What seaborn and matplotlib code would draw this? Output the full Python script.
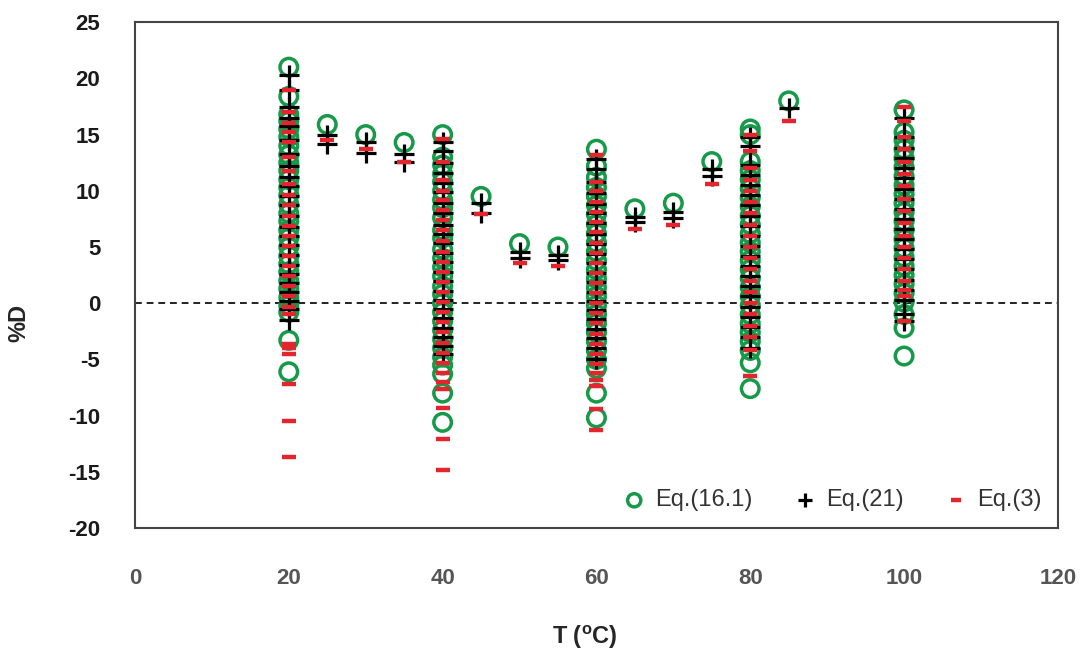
import numpy as np
import pandas as pd
import matplotlib
matplotlib.use("Agg")
import matplotlib.pyplot as plt
import seaborn as sns

# ---------------- data ----------------
eq161 = {
    20: [21.0, 18.4, 16.8, 16.2, 15.5, 14.8, 14.0, 13.2, 12.5, 11.8, 11.0, 10.3, 9.6, 8.8, 8.0, 7.3,
         6.5, 5.8, 5.0, 4.2, 3.5, 2.8, 2.0, 1.3, 0.5, -0.2, -0.8, -3.3, -6.1],
    25: [15.9], 30: [15.0], 35: [14.3],
    40: [15.0, 13.0, 12.3, 11.5, 10.8, 10.0, 9.2, 8.5, 7.6, 6.5, 5.8, 4.8, 4.0, 3.2, 2.4, 1.5, 0.8,
         0.0, -0.8, -1.6, -2.4, -3.2, -4.0, -4.8, -5.5, -6.3, -8.0, -10.6],
    45: [9.5], 50: [5.3], 55: [5.0],
    60: [13.7, 12.2, 11.2, 10.3, 9.5, 8.7, 7.9, 7.0, 6.2, 5.4, 4.6, 3.8, 3.0, 2.2, 1.4, 0.6, -0.2,
         -1.0, -1.8, -2.6, -3.4, -4.2, -5.0, -5.8, -8.0, -10.2],
    65: [8.4], 70: [8.9], 75: [12.6],
    80: [15.5, 15.0, 12.6, 11.8, 11.0, 10.2, 9.4, 8.6, 7.8, 7.0, 6.2, 5.4, 4.6, 3.8, 3.0, 2.2, 1.4,
         0.6, -0.2, -1.0, -1.8, -2.6, -3.4, -4.2, -5.3, -7.6],
    85: [18.0],
    100: [17.2, 15.2, 14.5, 13.7, 12.9, 12.1, 11.3, 10.5, 9.7, 8.9, 8.1, 7.3, 6.5, 5.7, 4.9, 4.1,
          3.3, 2.5, 1.7, 0.9, 0.1, -1.0, -2.2, -4.7],
}
eq21 = {
    20: [20.3, 19.0, 17.5, 16.5, 15.8, 14.5, 13.3, 12.2, 11.2, 10.4, 9.5, 8.7, 7.8, 6.8, 6.0, 5.2,
         4.3, 3.4, 2.6, 1.8, 1.0, 0.2, -0.5, -1.5],
    25: [15.0, 14.2], 30: [14.3, 13.4], 35: [13.3, 12.6],
    40: [14.3, 13.5, 12.5, 11.6, 10.7, 9.9, 8.9, 8.0, 7.0, 6.2, 5.4, 4.5, 3.7, 2.8, 2.0, 1.1, 0.3,
         -0.5, -1.3, -2.2, -3.0, -3.8, -4.5],
    45: [8.9, 8.0], 50: [4.6, 4.0], 55: [4.3, 3.8],
    60: [12.8, 11.9, 10.8, 9.8, 8.8, 8.0, 7.1, 6.2, 5.3, 4.4, 3.6, 2.7, 1.9, 1.0, 0.2, -0.6, -1.4,
         -2.3, -3.1, -4.0, -5.0],
    65: [7.7, 7.2], 70: [8.1, 7.6], 75: [11.9, 11.3],
    80: [14.8, 14.0, 12.3, 11.4, 10.5, 9.6, 8.7, 7.8, 6.9, 6.0, 5.1, 4.2, 3.3, 2.4, 1.5, 0.6, -0.3,
         -1.2, -2.1, -3.0, -4.0],
    85: [17.4],
    100: [16.5, 14.8, 13.8, 12.9, 12.0, 11.1, 10.2, 9.3, 8.4, 7.5, 6.6, 5.7, 4.8, 3.9, 3.0, 2.1,
          1.2, 0.3, -1.0, -1.6],
}
eq3 = {
    20: [19.0, 17.0, 16.0, 15.2, 14.3, 13.0, 11.8, 10.6, 9.6, 8.7, 7.8, 6.9, 6.0, 5.1, 4.2, 3.3,
         2.4, 1.5, 0.6, -0.3, -1.0, -3.6, -4.0, -4.5, -7.2, -10.5, -13.7],
    25: [14.5], 30: [13.7], 35: [12.6],
    40: [14.6, 12.6, 11.0, 10.0, 9.2, 8.3, 7.4, 6.5, 5.5, 4.6, 3.7, 2.8, 1.9, 1.0, 0.1, -0.8, -1.7,
         -2.6, -3.5, -4.4, -5.3, -6.2, -7.0, -7.6, -9.3, -12.1, -14.8],
    45: [7.9], 50: [3.6], 55: [3.3],
    60: [13.2, 10.8, 10.0, 9.0, 8.1, 7.2, 6.3, 5.4, 4.5, 3.6, 2.7, 1.8, 0.9, 0.0, -0.9, -1.8, -2.7,
         -3.6, -4.5, -5.4, -6.2, -6.8, -7.4, -9.4, -11.3],
    65: [6.6], 70: [7.0], 75: [10.6],
    80: [15.0, 13.5, 12.0, 11.0, 10.0, 9.0, 8.0, 7.0, 6.0, 5.0, 4.0, 3.0, 2.0, 1.0, 0.0, -1.0,
         -2.0, -3.0, -4.2, -6.5],
    85: [16.2],
    100: [17.5, 16.2, 14.8, 13.7, 12.6, 11.5, 10.4, 9.3, 8.2, 7.1, 6.0, 5.0, 4.0, 3.0, 2.0, 1.2,
          0.6, -1.6],
}
series_names = ["Eq.(16.1)", "Eq.(21)", "Eq.(3)"]
x_ticks = [0, 20, 40, 60, 80, 100, 120]
y_ticks = [-20, -15, -10, -5, 0, 5, 10, 15, 20, 25]


def to_df(d, name):
    rows = [(t, v, name) for t, vals in d.items() for v in vals]
    return pd.DataFrame(rows, columns=["T", "D", "series"])


df = pd.concat([to_df(eq161, series_names[0]), to_df(eq21, series_names[1]),
                to_df(eq3, series_names[2])], ignore_index=True)

# ---------------- style ----------------
sns.set_theme(style="white")
plt.rcParams['font.family'] = ['Liberation Sans', 'DejaVu Sans']
plt.rcParams['mathtext.fontset'] = 'custom'
plt.rcParams['mathtext.rm'] = 'Liberation Sans'
plt.rcParams['mathtext.bf'] = 'Liberation Sans:bold'

green = "#17994a"
red = "#e3262d"

fig = plt.figure(figsize=(10.85, 6.53), dpi=100)
ax = fig.add_axes([0.1244, 0.1914, 0.8506, 0.7746])

ax.axhline(0, color="#222222", lw=1.4, ls=(0, (3.5, 2.5)), zorder=1)

sns.scatterplot(data=df[df.series == series_names[0]], x="T", y="D", ax=ax,
                marker="o", s=160, facecolors="none", edgecolor=green, linewidth=2.5,
                label=series_names[0], zorder=2)
sns.scatterplot(data=df[df.series == series_names[1]], x="T", y="D", ax=ax,
                marker="+", s=190, color="black", linewidth=2.3,
                label=series_names[1], zorder=3)
sns.scatterplot(data=df[df.series == series_names[2]], x="T", y="D", ax=ax,
                marker="_", s=90, color=red, linewidth=3.2,
                label=series_names[2], zorder=4)

ax.set_xlim(0, 120)
ax.set_ylim(-20, 25)
ax.set_xticks(x_ticks)
ax.set_yticks(y_ticks)
ax.set_xticklabels([str(t) for t in x_ticks], fontsize=16, fontweight="bold", color="#555555")
ax.set_yticklabels([str(t) for t in y_ticks], fontsize=16, fontweight="bold", color="#1a1a1a")
ax.tick_params(axis="y", length=0, pad=25)
ax.tick_params(axis="x", length=0, pad=29)

for sp in ax.spines.values():
    sp.set_color("#444444")
    sp.set_linewidth(1.5)

ax.set_xlabel(r"T ($\mathbf{^{o}}$C)", fontsize=17, fontweight="bold")
ax.set_ylabel("%D", fontsize=17, fontweight="bold")
ax.xaxis.set_label_coords(0.487, -0.19)
ax.yaxis.set_label_coords(-0.113, 0.405)

leg = ax.legend(loc="lower right", ncol=3, frameon=False, fontsize=17,
                handletextpad=0.3, columnspacing=1.6, borderaxespad=0.3,
                handlelength=1.2, markerscale=0.75)
for t in leg.get_texts():
    t.set_color("#333333")

fig.savefig("out.png", dpi=100)
